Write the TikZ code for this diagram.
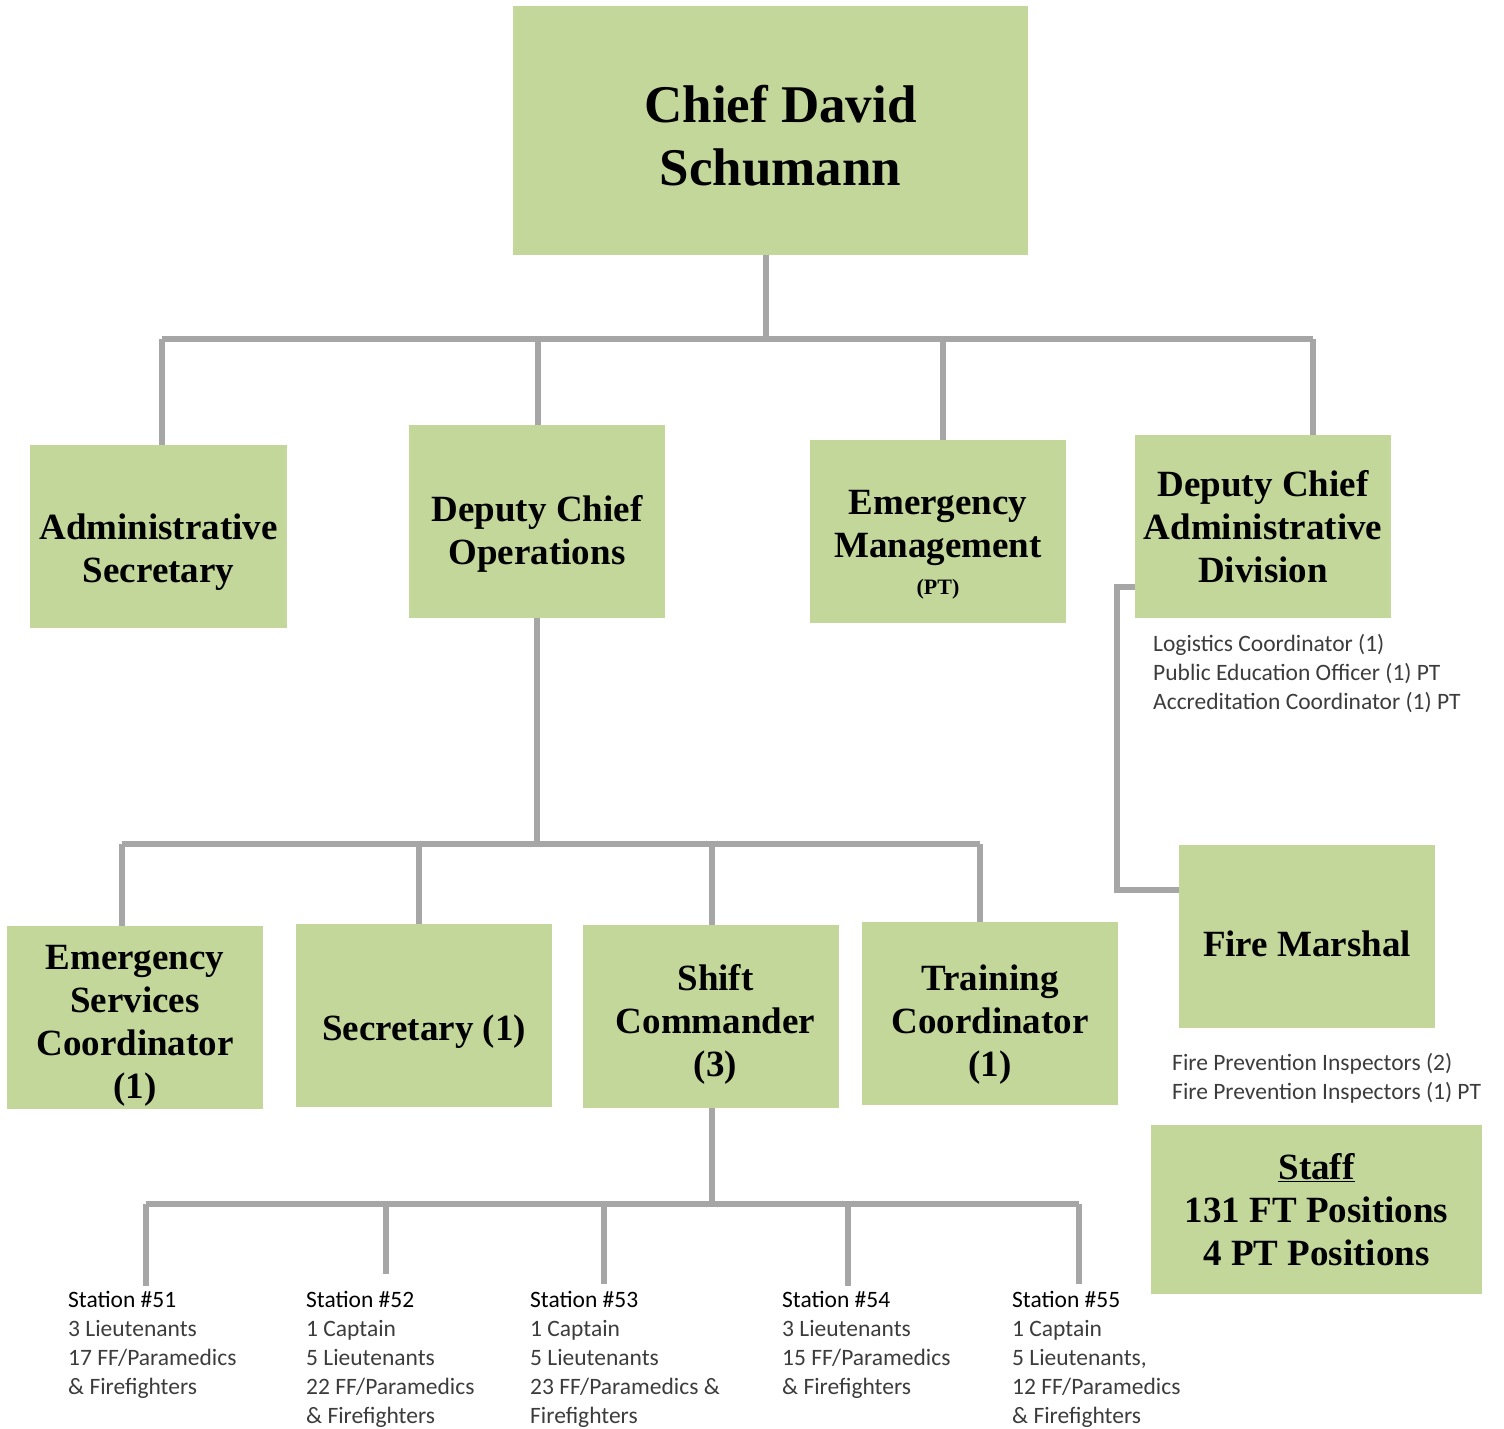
\documentclass[tikz,border=0pt]{standalone}
\usepackage{fontspec}
\setmainfont{Liberation Serif}
\newfontfamily\carlito{Carlito}
\usetikzlibrary{positioning}
\definecolor{boxgreen}{RGB}{196,215,155}
\definecolor{linkgray}{RGB}{166,166,166}
\definecolor{notegray}{RGB}{60,60,60}
\tikzset{
  post/.style={fill=boxgreen,inner sep=0pt,minimum width=256pt,minimum height=183pt,
    align=center,font=\fontsize{37}{43}\selectfont\bfseries},
  link/.style={draw=linkgray,line width=6pt},
  note/.style={anchor=north west,inner sep=0pt,align=left,
    font=\carlito\fontsize{23.5}{29}\selectfont,text=notegray}
}
\newcommand{\sthead}[1]{\textcolor{black}{#1}}
% pushes the text of a box down by #1pt
\newcommand{\lowr}[1]{\rule{0pt}{\dimexpr 25pt+#1pt*2\relax}}
\begin{document}
\begin{tikzpicture}[x=1pt,y=-1pt]
\useasboundingbox (0,0) rectangle (1504,1429);
% boxes
\node[post,minimum width=515pt,minimum height=249pt,font=\fontsize{53}{63}\selectfont\bfseries]
  (chief) at (770.5,130.5) {\rule{0pt}{48pt}\hspace*{20pt}Chief David\\\hspace*{20pt}Schumann};
\node[post,minimum width=257pt] (adsec) at (158.5,536.5) {\lowr{16}Administrative\\Secretary};
\node[post,minimum height=193pt] (dcops) at (537,521.5) {\lowr{13}Deputy Chief\\Operations};
\node[post] (em) at (938,531.5) {\lowr{13}Emergency\\Management\\[-6pt]{\fontsize{22}{24}\selectfont(PT)}};
\node[post] (dcadm) at (1263,526.5) {Deputy Chief\\Administrative\\Division};
\node[post] (fm) at (1307,936.5) {\lowr{8}Fire Marshal};
\node[post,minimum width=331pt,minimum height=169pt] (staff) at (1316.5,1209.5)
  {\underline{Staff}\\131 FT Positions\\4 PT Positions};
\node[post] (esc) at (135,1017.5) {\lowr{8}Emergency\\Services\\Coordinator\\(1)};
\node[post] (sec) at (424,1015.5) {\lowr{16}Secretary (1)};
\node[post] (shift) at (710.5,1016.5) {\lowr{8}\hspace*{10pt}Shift\\\hspace*{10pt}Commander\\\hspace*{10pt}(3)};
\node[post] (train) at (990,1013.5) {\lowr{11}Training\\Coordinator\\(1)};
% notes
\node[note] (adnote) at (1153,634) {Logistics Coordinator (1)\\Public Education Officer (1) PT\\Accreditation Coordinator (1) PT};
\node[note] (fmnote) at (1172,1053) {Fire Prevention Inspectors (2)\\Fire Prevention Inspectors (1) PT};
\node[note] (st51) at (68,1291) {\sthead{Station \#51}\\3 Lieutenants\\17 FF/Paramedics\\\& Firefighters};
\node[note] (st52) at (306,1291) {\sthead{Station \#52}\\1 Captain\\5 Lieutenants\\22 FF/Paramedics\\\& Firefighters};
\node[note] (st53) at (530,1291) {\sthead{Station \#53}\\1 Captain\\5 Lieutenants\\23 FF/Paramedics \&\\Firefighters};
\node[note] (st54) at (782,1291) {\sthead{Station \#54}\\3 Lieutenants\\15 FF/Paramedics\\\& Firefighters};
\node[note] (st55) at (1012,1291) {\sthead{Station \#55}\\1 Captain\\5 Lieutenants,\\12 FF/Paramedics\\\& Firefighters};
% first level
\coordinate (b1a) at (162,339);
\coordinate (b1b) at (538,339);
\coordinate (b1c) at (943,339);
\coordinate (b1d) at (1313,339);
\draw[link] (766,0 |- chief.south) -- (766,339);
\draw[link] (b1a) -- (b1d);
\draw[link] (b1a) -- (b1a |- adsec.north);
\draw[link] (b1b) -- (b1b |- dcops.north);
\draw[link] (b1c) -- (b1c |- em.north);
\draw[link] (b1d) -- (b1d |- dcadm.north);
\draw[link] ([yshift=31pt]dcadm.south west) -- ++(-18,0) |- ([yshift=-45pt]fm.north west);
% second level
\coordinate (b2a) at (122,844);
\coordinate (b2b) at (419,844);
\coordinate (b2c) at (712,844);
\coordinate (b2d) at (980,844);
\draw[link] (dcops.south) -- (dcops.south |- b2a);
\draw[link] (b2a) -- (b2d);
\draw[link] (b2a) -- (b2a |- esc.north);
\draw[link] (b2b) -- (b2b |- sec.north);
\draw[link] (b2c) -- (b2c |- shift.north);
\draw[link] (b2d) -- (b2d |- train.north);
% stations
\coordinate (b3a) at (146,1204);
\coordinate (b3b) at (386,1204);
\coordinate (b3c) at (604,1204);
\coordinate (b3d) at (848,1204);
\coordinate (b3e) at (1079,1204);
\draw[link] (b2c |- shift.south) -- (b2c |- b3a);
\draw[link] (b3a) -- (b3e);
\draw[link] (b3a) -- ([yshift=5pt]b3a |- st51.north);
\draw[link] (b3b) -- ([yshift=17pt]b3b |- st52.north);
\draw[link] (b3c) -- ([yshift=7pt]b3c |- st53.north);
\draw[link] (b3d) -- ([yshift=5pt]b3d |- st54.north);
\draw[link] (b3e) -- ([yshift=7pt]b3e |- st55.north);
\end{tikzpicture}
\end{document}
